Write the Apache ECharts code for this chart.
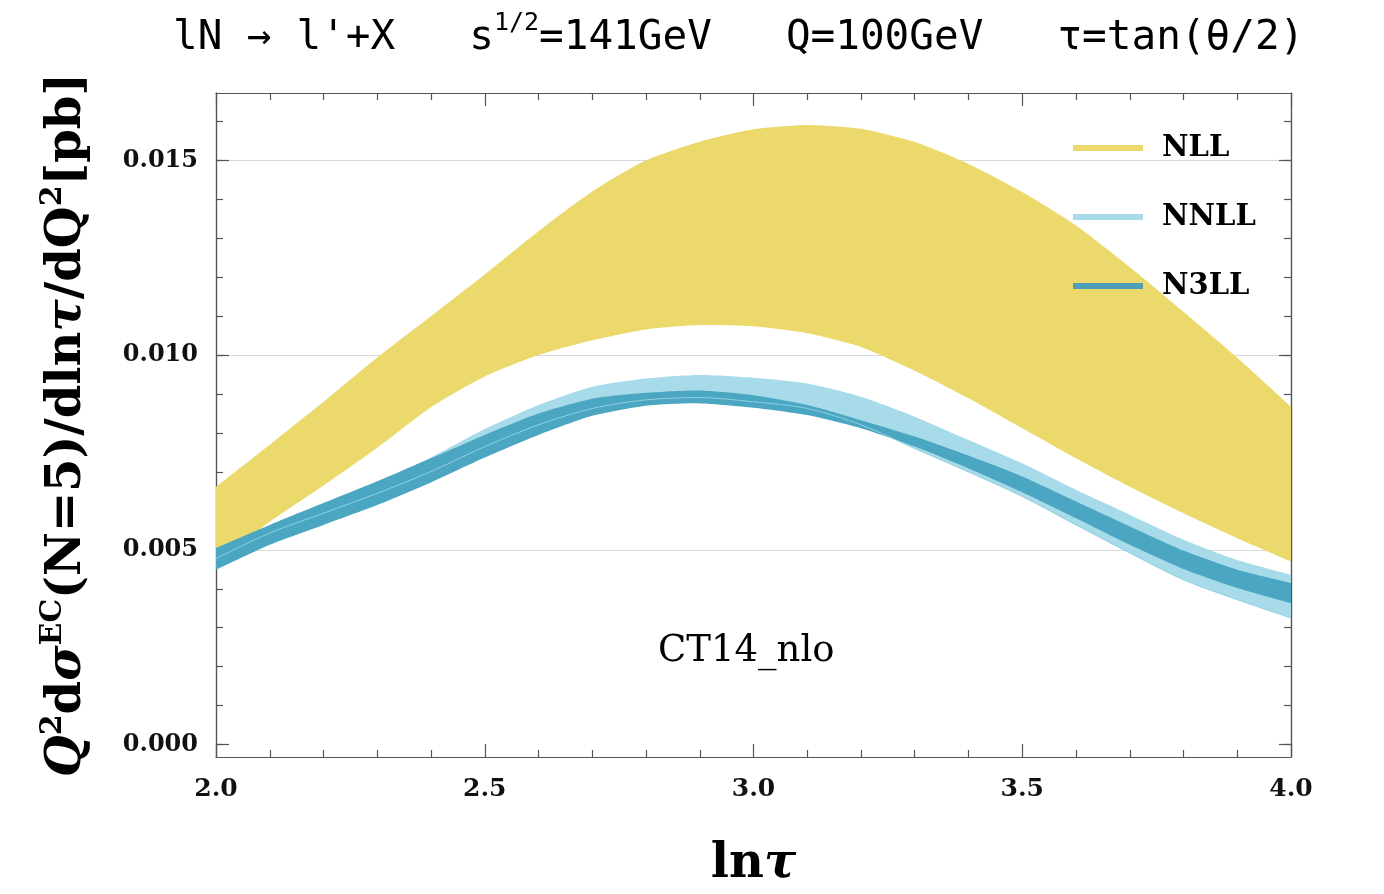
<!DOCTYPE html>
<html>
<head>
<meta charset="utf-8">
<script src="https://cdn.jsdelivr.net/npm/echarts@6/dist/echarts.min.js"></script>
<style>
  html, body { margin: 0; padding: 0; background: #fff; }
  #chart { width: 1384px; height: 894px; }
</style>
</head>
<body>
<div id="chart"></div>
<script>
// ln(tau) sample points
var lnTau = [2.0, 2.1, 2.2, 2.3, 2.4, 2.5, 2.6, 2.7, 2.8, 2.9, 3.0,
             3.1, 3.2, 3.3, 3.4, 3.5, 3.6, 3.7, 3.8, 3.9, 4.0];

// NLL band
var nllLow  = [0.00467, 0.00572, 0.00665, 0.00762, 0.00866, 0.00945, 0.01000, 0.01038, 0.01066, 0.01077, 0.01074,
               0.01056, 0.01021, 0.00960, 0.00889, 0.00812, 0.00735, 0.00662, 0.00594, 0.00530, 0.00470];
var nllHigh = [0.00662, 0.00770, 0.00880, 0.00994, 0.01100, 0.01207, 0.01318, 0.01420, 0.01500, 0.01548, 0.01580,
               0.01591, 0.01581, 0.01547, 0.01491, 0.01419, 0.01333, 0.01226, 0.01111, 0.00993, 0.00867];

// NNLL band
var nnllLow  = [0.00478, 0.00543, 0.00594, 0.00645, 0.00701, 0.00765, 0.00821, 0.00863, 0.00885, 0.00891, 0.00880,
                0.00863, 0.00821, 0.00760, 0.00700, 0.00637, 0.00564, 0.00492, 0.00423, 0.00372, 0.00325];
var nnllHigh = [0.00500, 0.00560, 0.00617, 0.00673, 0.00737, 0.00810, 0.00872, 0.00919, 0.00940, 0.00949, 0.00942,
                0.00927, 0.00893, 0.00842, 0.00782, 0.00722, 0.00654, 0.00590, 0.00526, 0.00474, 0.00436];

// N3LL band
var n3llLow  = [0.00449, 0.00513, 0.00564, 0.00615, 0.00673, 0.00737, 0.00795, 0.00844, 0.00870, 0.00876, 0.00865,
                0.00846, 0.00812, 0.00765, 0.00709, 0.00648, 0.00581, 0.00513, 0.00451, 0.00402, 0.00363];
var n3llHigh = [0.00505, 0.00564, 0.00620, 0.00676, 0.00735, 0.00795, 0.00850, 0.00888, 0.00903, 0.00909, 0.00897,
                0.00872, 0.00833, 0.00791, 0.00742, 0.00688, 0.00624, 0.00560, 0.00498, 0.00449, 0.00415];

// axis ticks
var yMajorTicks = [0, 0.005, 0.010, 0.015];
var yMinorTicks = [0, 0.001, 0.002, 0.003, 0.004, 0.005, 0.006, 0.007, 0.008,
                   0.009, 0.010, 0.011, 0.012, 0.013, 0.014, 0.015, 0.016];
var yGridLines = [0.005, 0.010, 0.015];

var YMIN = -0.00032, YMAX = 0.01673;
var AXIS_COLOR = "#555";
var SERIF = "DejaVu Serif";

var cNLL = "#ebd96c", cNNLL = "#a8dbea", cN3LL = "#4ba6c1";

function pairs(ys) {
  return lnTau.map(function(x, i) { return [x, ys[i]]; });
}
function triples(lo, hi) {
  return lnTau.map(function(x, i) { return [x, lo[i], hi[i]]; });
}

// whole band drawn once, as one smoothed polygon (corners doubled so they stay sharp)
function renderBand(color) {
  return function(params, api) {
    if (params.dataIndex !== 0) return null;
    var n = lnTau.length, top = [], bot = [];
    for (var j = 0; j < n; j++) {
      top.push(api.coord([api.value(0, j), api.value(2, j)]));
      bot.push(api.coord([api.value(0, j), api.value(1, j)]));
    }
    var pts = top.slice();
    pts.push(top[n - 1].slice(), bot[n - 1].slice());
    for (var k = n - 1; k >= 0; k--) pts.push(bot[k]);
    pts.push(bot[0].slice(), top[0].slice());
    return {
      type: "polygon",
      shape: { points: pts, smooth: 0.22 },
      style: { fill: color, stroke: null }
    };
  };
}

function band(name, lo, hi, color, z) {
  return {
    name: name, type: "custom", data: triples(lo, hi),
    encode: { x: 0, y: [1, 2] },
    renderItem: renderBand(color),
    itemStyle: { color: color },
    clip: true, silent: true, z: z
  };
}

function yAx(pos, ticks, len, extra) {
  var a = {
    type: "value", position: pos, min: YMIN, max: YMAX,
    axisLine: { show: true, onZero: false, lineStyle: { color: AXIS_COLOR, width: 1.2 } },
    axisTick: { show: true, inside: true, length: len, customValues: ticks, lineStyle: { color: AXIS_COLOR, width: 1.2 } },
    axisLabel: { show: false },
    splitLine: { show: false }
  };
  for (var k in extra) a[k] = extra[k];
  return a;
}

var richName = {
  b:  { fontFamily: SERIF, fontWeight: "bold", fontSize: 48, lineHeight: 60, color: "#000" },
  bi: { fontFamily: SERIF, fontWeight: "bold", fontStyle: "italic", fontSize: 48, lineHeight: 60, color: "#000" },
  sup:{ fontFamily: SERIF, fontWeight: "bold", fontSize: 30, lineHeight: 36, verticalAlign: "top", color: "#000" }
};

var chart = echarts.init(document.getElementById("chart"), null, { renderer: "canvas" });

var option = {
  animation: false,
  backgroundColor: "#fff",
  title: {
    left: 168, top: 6,
    text: "{a|lN → l'+X   s}{s|1/2}{a|=141GeV   Q=100GeV   τ=tan(θ/2)}",
    textStyle: {
      fontWeight: "normal",
      rich: {
        a: { fontFamily: "DejaVu Sans Mono", fontWeight: "normal", fontSize: 41, lineHeight: 54, color: "#000" },
        s: { fontFamily: "DejaVu Sans Mono", fontWeight: "normal", fontSize: 25, lineHeight: 32, verticalAlign: "top", color: "#000" }
      }
    }
  },
  grid: { left: 216, right: 93, top: 93, bottom: 136, containLabel: false },
  legend: {
    orient: "vertical", left: 1068, top: 125,
    itemWidth: 70, itemHeight: 6, itemGap: 33,
    icon: "rect", selectedMode: false,
    itemStyle: { borderWidth: 0 },
    textStyle: { fontFamily: SERIF, fontWeight: "bold", fontSize: 29, lineHeight: 36, color: "#000", padding: [0, 0, 0, 14] },
    data: [
      { name: "NLL", itemStyle: { color: cNLL } },
      { name: "NNLL", itemStyle: { color: cNNLL } },
      { name: "N3LL", itemStyle: { color: "#4d9fb7" } }
    ]
  },
  xAxis: [
    {
      type: "value", position: "bottom", min: 2, max: 4, interval: 0.5,
      axisLine: { onZero: false, lineStyle: { color: AXIS_COLOR, width: 1.2 } },
      axisTick: { inside: true, length: 13, lineStyle: { color: AXIS_COLOR, width: 1.2 } },
      minorTick: { show: true, splitNumber: 5, length: 7, lineStyle: { color: AXIS_COLOR, width: 1.2 } },
      axisLabel: {
        margin: 20, fontFamily: SERIF, fontWeight: "bold", fontSize: 25, color: "#111",
        formatter: function(v) { return v.toFixed(1); }
      },
      splitLine: { show: false },
      name: "{b|ln}{bi|τ}",
      nameLocation: "middle", nameGap: 78,
      nameTextStyle: { rich: richName }
    },
    {
      type: "value", position: "top", min: 2, max: 4, interval: 0.5,
      axisLine: { onZero: false, lineStyle: { color: AXIS_COLOR, width: 1.2 } },
      axisTick: { inside: true, length: 13, lineStyle: { color: AXIS_COLOR, width: 1.2 } },
      minorTick: { show: true, splitNumber: 5, length: 7, lineStyle: { color: AXIS_COLOR, width: 1.2 } },
      axisLabel: { show: false },
      splitLine: { show: false }
    }
  ],
  yAxis: [
    yAx("left", yMajorTicks, 13, {
      axisLabel: {
        show: true, customValues: yMajorTicks, margin: 18,
        fontFamily: SERIF, fontWeight: "bold", fontSize: 24, color: "#111",
        formatter: function(v) { return v.toFixed(3); }
      },
      name: "{bi|Q}{sup|2}{b|d}{bi|σ}{sup|EC}{b|(N=5)/dln}{bi|τ}{b|/dQ}{sup|2}{b|[pb]}",
      nameLocation: "middle", nameRotate: 90, nameGap: 118,
      nameTextStyle: { rich: richName }
    }),
    yAx("left", yMinorTicks, 7, {}),
    yAx("right", yMajorTicks, 12, {}),
    yAx("right", yMinorTicks, 7, {}),
    // grid lines only
    {
      type: "value", position: "left", min: YMIN, max: YMAX,
      axisLine: { show: false, onZero: false },
      axisTick: { show: false, customValues: yGridLines },
      axisLabel: { show: false },
      splitLine: { show: true, lineStyle: { color: "#d9d9d9", width: 1.2 } }
    }
  ],
  graphic: [
    {
      type: "text", left: 658, top: 633, silent: true,
      style: { text: "CT14_nlo", fontFamily: SERIF, fontSize: 37, fill: "#000" }
    }
  ],
  series: [
    band("NLL", nllLow, nllHigh, cNLL, 3),
    band("NNLL", nnllLow, nnllHigh, cNNLL, 4),
    band("N3LL", n3llLow, n3llHigh, cN3LL, 5),
    {
      name: "NNLL-edge", type: "line", data: pairs(nnllLow),
      symbol: "none", smooth: 0.3, z: 6, silent: true,
      lineStyle: { color: "#8fd0e2", width: 1 }
    }
  ]
};

chart.setOption(option);
</script>
</body>
</html>
